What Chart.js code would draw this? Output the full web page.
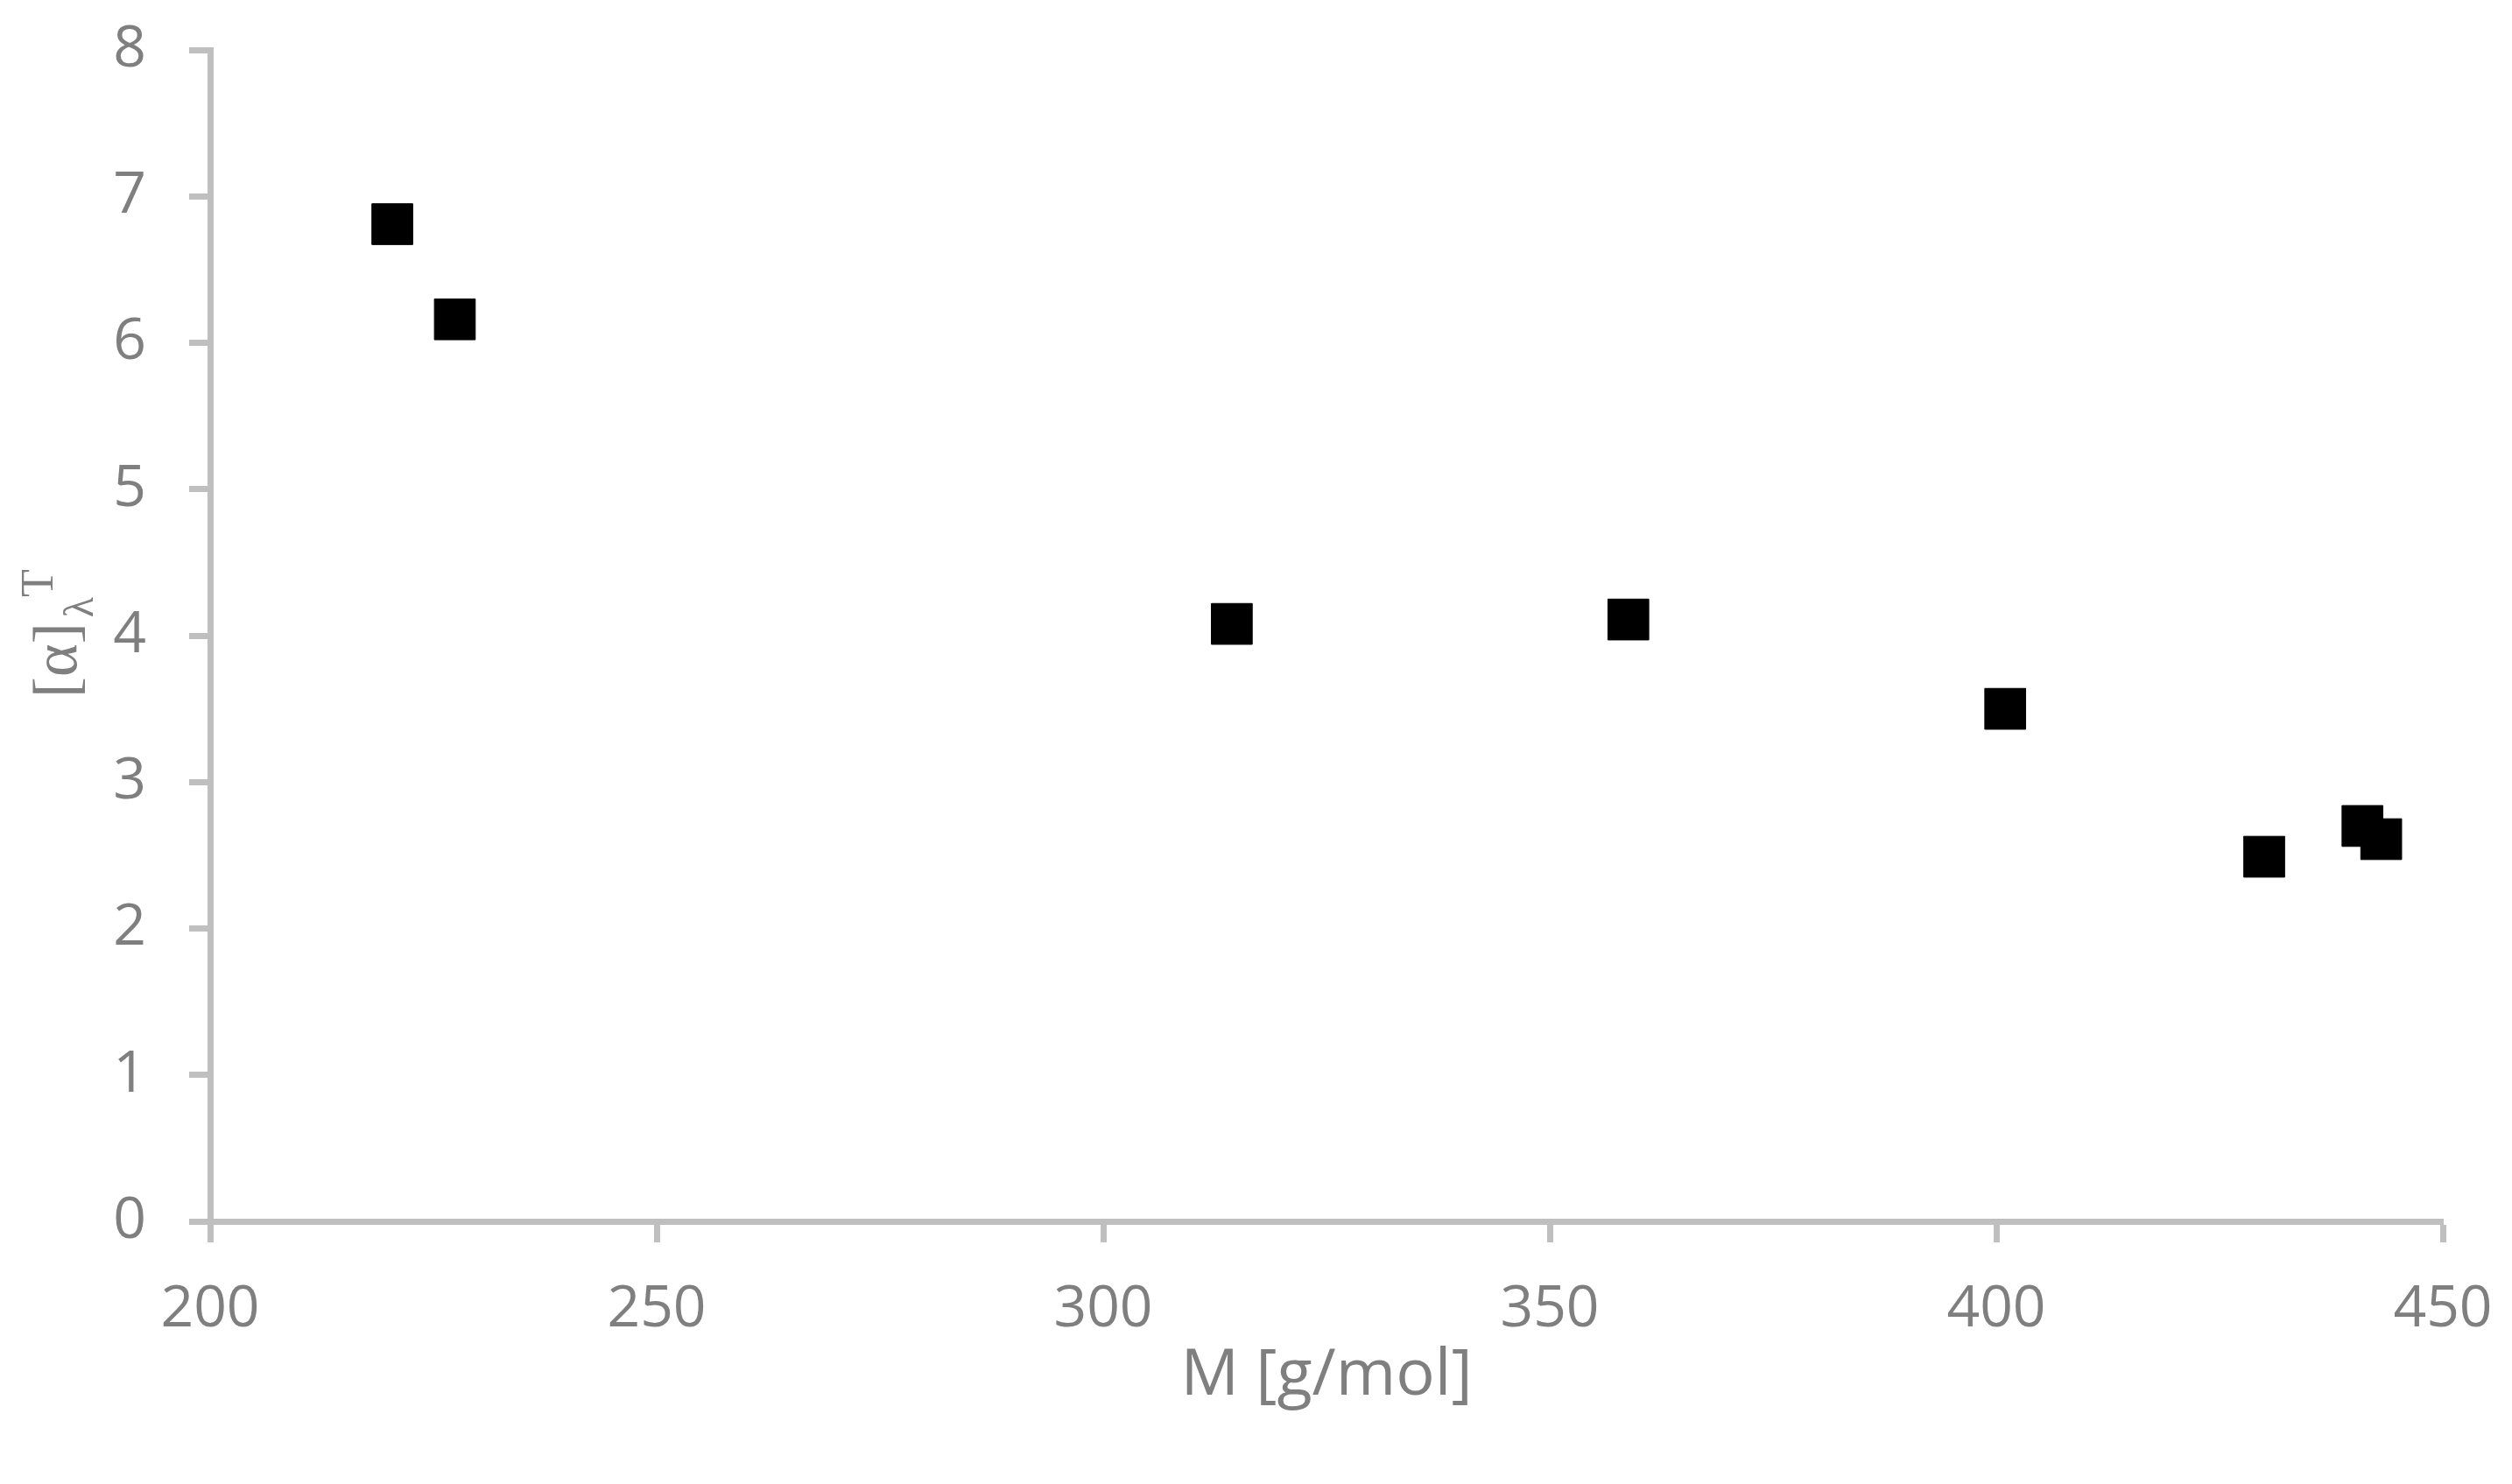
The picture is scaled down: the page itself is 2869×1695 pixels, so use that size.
<!DOCTYPE html>
<html>
<head>
<meta charset="utf-8">
<script src="https://cdn.jsdelivr.net/npm/chart.js@4/dist/chart.umd.min.js"></script>
<style>
  html, body { margin: 0; padding: 0; background: #fff; }
  #chart { display: block; }
</style>
</head>
<body>
<canvas id="chart" width="2869" height="1695"></canvas>
<script>
// molar mass [g/mol] and specific rotation
const molarMass = [220.4, 227.4, 314.4, 358.8, 401.0, 430.0, 441.0, 443.1];
const rotation  = [6.81, 6.16, 4.08, 4.11, 3.50, 2.49, 2.70, 2.61];

const xTicks = [200, 250, 300, 350, 400, 450];
const yTicks = [0, 1, 2, 3, 4, 5, 6, 7, 8];

const xTitle = "M [g/mol]";
const yTitleMain = "[α]";
const yTitleSub = "λ";
const yTitleSup = "T";

const gray = "#7f7f7f";
const axisGray = "#bfbfbf";

const points = molarMass.map((m, i) => ({ x: m, y: rotation[i] }));

// y title needs a subscript and a superscript, so it is drawn by hand
const yTitlePlugin = {
  id: "yTitle",
  afterDraw(chart) {
    const ctx = chart.ctx;
    ctx.save();
    ctx.fillStyle = gray;
    ctx.textBaseline = "alphabetic";
    ctx.translate(87, 797);
    ctx.rotate(-Math.PI / 2);
    ctx.font = "72px 'Liberation Serif'";
    ctx.fillText(yTitleMain, 0, 0);
    const w = ctx.measureText(yTitleMain).width;
    ctx.font = "48px 'Liberation Serif'";
    ctx.fillText(yTitleSub, w + 6, 19);
    const ws = ctx.measureText(yTitleSub).width;
    ctx.font = "52px 'Liberation Serif'";
    ctx.fillText(yTitleSup, w + 6 + ws, -27);
    ctx.restore();
  }
};

new Chart(document.getElementById("chart"), {
  type: "scatter",
  data: {
    datasets: [{
      data: points,
      pointStyle: "rect",
      pointRadius: 33,
      pointHoverRadius: 33,
      backgroundColor: "#000",
      borderColor: "#000",
      borderWidth: 1
    }]
  },
  options: {
    responsive: false,
    animation: false,
    devicePixelRatio: 1,
    layout: { padding: { left: 0, top: 57, right: 79, bottom: 0 } },
    plugins: {
      legend: { display: false },
      tooltip: { enabled: false }
    },
    scales: {
      x: {
        type: "linear",
        min: 200,
        max: 450,
        afterBuildTicks: s => { s.ticks = xTicks.map(v => ({ value: v })); },
        afterFit: s => { s.height = 300; s.paddingLeft = 0; s.paddingRight = 0; },
        grid: { display: true, drawOnChartArea: false, drawTicks: true, tickLength: 24, tickColor: axisGray, tickWidth: 7, color: axisGray },
        border: { display: true, color: axisGray, width: 7 },
        ticks: { color: gray, padding: 38, font: { family: "'Open Sans'", size: 66 } },
        title: {
          display: true,
          text: xTitle,
          color: gray,
          font: { family: "'Open Sans'", size: 74 },
          padding: { top: 0, bottom: 79 }
        }
      },
      y: {
        type: "linear",
        min: 0,
        max: 8,
        afterBuildTicks: s => { s.ticks = yTicks.map(v => ({ value: v })); },
        afterFit: s => { s.width = 240; s.paddingTop = 0; s.paddingBottom = 0; },
        grid: { display: true, drawOnChartArea: false, drawTicks: true, tickLength: 24, tickColor: axisGray, tickWidth: 7, color: axisGray },
        border: { display: true, color: axisGray, width: 7 },
        ticks: { color: gray, padding: 49, font: { family: "'Open Sans'", size: 66 } }
      }
    }
  },
  plugins: [yTitlePlugin]
});
</script>
</body>
</html>
